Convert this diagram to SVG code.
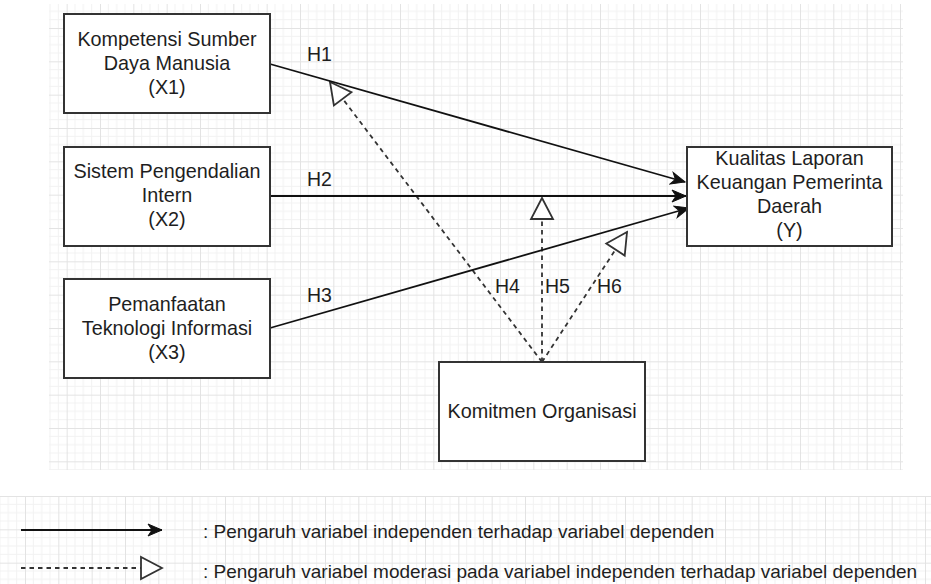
<svg xmlns="http://www.w3.org/2000/svg" width="931" height="584" viewBox="0 0 931 584">
<style>
.box{fill:#fff;stroke:#333;stroke-width:2}
.t{font-family:"Liberation Sans",Arial,sans-serif;font-size:19.8px;fill:#1e1e1e;text-anchor:middle}
.lbl{font-family:"Liberation Sans",Arial,sans-serif;font-size:19.5px;fill:#1e1e1e}
.leg{font-family:"Liberation Sans",Arial,sans-serif;font-size:19px;fill:#1e1e1e}
.solid{fill:none;stroke:#111;stroke-width:1.8}
.dash{fill:none;stroke:#333;stroke-width:1.8;stroke-dasharray:4.5 4}
</style>
<defs>
<pattern id="gridTop" patternUnits="userSpaceOnUse" x="0" y="28" width="33.333" height="33.333">
<path d="M8.333 0V33.333M16.667 0V33.333M25 0V33.333M0 8.333H33.333M0 16.667H33.333M0 25H33.333" stroke="#f2f2f2" stroke-width="1" fill="none"/>
<path d="M0.5 0V33.333M0 0.5H33.333" stroke="#e3e3e3" stroke-width="1" fill="none"/>
</pattern>
<pattern id="gridLeg" patternUnits="userSpaceOnUse" x="25" y="496" width="33.333" height="33.333">
<path d="M8.333 0V33.333M16.667 0V33.333M25 0V33.333M0 8.333H33.333M0 16.667H33.333M0 25H33.333" stroke="#f2f2f2" stroke-width="1" fill="none"/>
<path d="M0.5 0V33.333M0 0.5H33.333" stroke="#e3e3e3" stroke-width="1" fill="none"/>
</pattern>
<marker id="arr" markerUnits="userSpaceOnUse" viewBox="-15 -8 16 16" refX="0" refY="0" markerWidth="16" markerHeight="16" orient="auto">
<path d="M0,0 L-14,-6 L-10,0 L-14,6 Z" fill="#111" stroke="#111" stroke-width="1"/>
</marker>
<marker id="tri" markerUnits="userSpaceOnUse" viewBox="-23 -13 25 26" refX="0" refY="0" markerWidth="25" markerHeight="26" orient="auto">
<path d="M0,0 L-21,-11 L-21,11 Z" fill="#fff" stroke="#333" stroke-width="1.8" stroke-linejoin="miter"/>
</marker>
</defs>
<rect width="931" height="584" fill="#fff"/>
<rect x="49" y="4" width="854" height="466" fill="url(#gridTop)"/>
<rect x="0" y="496" width="931" height="88" fill="url(#gridLeg)"/>

<g id="connectors">
<line class="dash" x1="542" y1="362" x2="330" y2="82" marker-end="url(#tri)"/>
<line class="dash" x1="542" y1="362" x2="542" y2="198" marker-end="url(#tri)"/>
<line class="dash" x1="542" y1="362" x2="627" y2="232" marker-end="url(#tri)"/>
<line class="solid" x1="270" y1="64" x2="685" y2="182" marker-end="url(#arr)"/>
<line class="solid" x1="270" y1="196" x2="686" y2="196" marker-end="url(#arr)"/>
<line class="solid" x1="270" y1="328" x2="689" y2="208" marker-end="url(#arr)"/>
<text class="lbl" x="307" y="61">H1</text>
<text class="lbl" x="307" y="186">H2</text>
<text class="lbl" x="307" y="302">H3</text>
<text class="lbl" x="495" y="293">H4</text>
<text class="lbl" x="545" y="293">H5</text>
<text class="lbl" x="597" y="293">H6</text>
</g>

<g id="x1">
<rect class="box" x="64" y="14" width="206" height="99"/>
<text class="t" x="167" y="46">Kompetensi Sumber</text>
<text class="t" x="167" y="70">Daya Manusia</text>
<text class="t" x="167" y="94">(X1)</text>
</g>
<g id="x2">
<rect class="box" x="64" y="147" width="206" height="99"/>
<text class="t" x="167" y="178">Sistem Pengendalian</text>
<text class="t" x="167" y="202">Intern</text>
<text class="t" x="167" y="226">(X2)</text>
</g>
<g id="x3">
<rect class="box" x="64" y="279" width="206" height="99"/>
<text class="t" x="167" y="311">Pemanfaatan</text>
<text class="t" x="167" y="335">Teknologi Informasi</text>
<text class="t" x="167" y="359">(X3)</text>
</g>
<g id="y">
<rect class="box" x="687" y="147" width="205" height="99"/>
<text class="t" x="789.5" y="165">Kualitas Laporan</text>
<text class="t" x="789.5" y="189">Keuangan Pemerinta</text>
<text class="t" x="789.5" y="213">Daerah</text>
<text class="t" x="789.5" y="237">(Y)</text>
</g>
<g id="komitmen">
<rect class="box" x="439" y="362" width="206" height="99"/>
<text class="t" x="542" y="418">Komitmen Organisasi</text>
</g>

<g id="legend">
<line class="solid" x1="21" y1="530" x2="162" y2="530" marker-end="url(#arr)"/>
<line class="dash" x1="21" y1="568" x2="162" y2="568" marker-end="url(#tri)" stroke-dashoffset="0"/>
<text class="leg" x="203" y="538">: Pengaruh variabel independen terhadap variabel dependen</text>
<text class="leg" x="203" y="578">: Pengaruh variabel moderasi pada variabel independen terhadap variabel dependen</text>
</g>
</svg>
